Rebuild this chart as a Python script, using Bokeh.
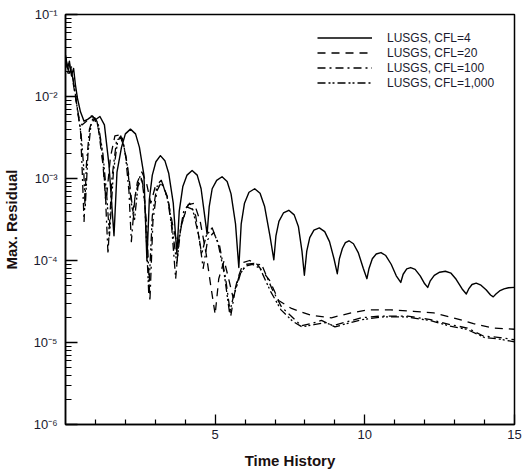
from bokeh.plotting import figure
from bokeh.models import Range1d, FixedTicker, Legend, LegendItem
from bokeh.embed import file_html
from bokeh.resources import INLINE

# ---- data ----
cfl4_x = [0.0, 0.07, 0.13, 0.2, 0.27, 0.33, 0.4, 0.5, 0.62, 0.75, 0.9, 1.0, 1.15, 1.3, 1.45, 1.62,
          1.72, 1.87, 2.0, 2.17, 2.34, 2.47, 2.62, 2.72,
          2.8, 2.9, 3.02, 3.17, 3.32, 3.45, 3.6, 3.72,
          3.8, 3.92, 4.06, 4.23, 4.4, 4.53, 4.65, 4.73,
          4.8, 4.9, 5.05, 5.23, 5.4, 5.53, 5.68, 5.79,
          5.87, 5.98, 6.13, 6.32, 6.5, 6.65, 6.83, 6.96,
          7.03, 7.13, 7.28, 7.46, 7.64, 7.78, 7.9, 7.98,
          8.06, 8.16, 8.3, 8.48, 8.66, 8.82, 8.97, 9.08,
          9.15, 9.25, 9.35, 9.47, 9.62, 9.78, 9.95, 10.07,
          10.14, 10.25, 10.38, 10.54, 10.7, 10.88, 11.05, 11.2,
          11.28, 11.4, 11.53, 11.68, 11.85, 12.0, 12.1,
          12.18, 12.32, 12.5, 12.69, 12.88, 13.05, 13.25, 13.39,
          13.47, 13.58, 13.72, 13.88, 14.05, 14.2, 14.29,
          14.38, 14.5, 14.65, 14.8, 15.0]
cfl4_y = [3.2e-2, 2.2e-2, 2.7e-2, 1.8e-2, 2.2e-2, 1.4e-2, 9.5e-3, 6.5e-3, 5.0e-3, 5.3e-3, 5.8e-3, 5.2e-3, 5.7e-3, 4.5e-3, 1.5e-3, 2.0e-4,
          1.2e-3, 2.4e-3, 3.5e-3, 4.0e-3, 3.5e-3, 2.4e-3, 1.1e-3, 1.0e-4,
          5.5e-4, 1.1e-3, 1.6e-3, 1.9e-3, 1.65e-3, 1.15e-3, 5e-4, 1.2e-4,
          4e-4, 8e-4, 1.1e-3, 1.25e-3, 1.1e-3, 7.5e-4, 3.5e-4, 2.1e-4,
          4.5e-4, 7.5e-4, 9.5e-4, 1.05e-3, 9.2e-4, 6.5e-4, 2.8e-4, 8.2e-5,
          2.8e-4, 5e-4, 6.8e-4, 7.5e-4, 6.6e-4, 4.6e-4, 2.0e-4, 1.02e-4,
          2.0e-4, 3.0e-4, 3.8e-4, 4.1e-4, 3.6e-4, 2.6e-4, 1.3e-4, 6.6e-5,
          1.3e-4, 1.9e-4, 2.35e-4, 2.5e-4, 2.25e-4, 1.7e-4, 1.05e-4, 6.9e-5,
          1.05e-4, 1.4e-4, 1.65e-4, 1.74e-4, 1.6e-4, 1.25e-4, 8e-5, 6.0e-5,
          8e-5, 1.05e-4, 1.2e-4, 1.25e-4, 1.15e-4, 9e-5, 6.5e-5, 5.4e-5,
          6.8e-5, 7.9e-5, 8.2e-5, 7.8e-5, 6.5e-5, 5.2e-5, 4.7e-5,
          5.6e-5, 6.6e-5, 7.2e-5, 7.4e-5, 7.0e-5, 5.9e-5, 4.5e-5, 3.9e-5,
          4.5e-5, 5.1e-5, 5.3e-5, 5.0e-5, 4.4e-5, 3.8e-5, 3.6e-5,
          3.9e-5, 4.25e-5, 4.5e-5, 4.65e-5, 4.7e-5]

cfl20_x = [0.0, 0.08, 0.15, 0.25, 0.35, 0.45, 0.55, 0.7, 0.85, 0.95, 1.1, 1.25, 1.35, 1.5, 1.65, 1.8, 1.95,
           2.1, 2.25, 2.4, 2.55, 2.7, 2.85, 3.0, 3.2, 3.4, 3.6, 3.75, 3.9, 4.1, 4.3, 4.5, 4.7, 4.85,
           5.0, 5.12, 5.3, 5.45, 5.6, 5.75, 5.95, 6.15, 6.4, 6.82, 7.12, 7.55, 8.2, 8.88, 9.54, 10.1,
           10.87, 11.63, 12.3, 12.96, 13.63, 14.29, 15.0]
cfl20_y = [3.0e-2, 2.0e-2, 2.5e-2, 1.5e-2, 9e-3, 5.5e-3, 4.5e-3, 5.0e-3, 5.8e-3, 5.5e-3, 4.0e-3, 1.5e-3, 5e-4, 1.8e-3, 3.3e-3, 3.4e-3, 2.5e-3,
           1.2e-3, 4.0e-4, 9e-4, 1.2e-3, 9e-4, 5e-4, 8e-4, 9.5e-4, 6e-4, 2.5e-4, 1.5e-4, 3e-4, 4.8e-4, 5e-4, 3e-4, 1.2e-4, 5e-5,
           2.2e-5, 6e-5, 1.0e-4, 6e-5, 3.5e-5, 6e-5, 9.5e-5, 1.0e-4, 9e-5, 5.7e-5, 3.25e-5, 2.6e-5, 2.15e-5, 2.0e-5, 2.3e-5, 2.5e-5,
           2.5e-5, 2.4e-5, 2.3e-5, 2.0e-5, 1.7e-5, 1.5e-5, 1.45e-5]

cfl100_x = [0.0, 0.1, 0.2, 0.3, 0.4, 0.5, 0.56, 0.62, 0.7, 0.8, 0.92, 1.05, 1.2, 1.32, 1.42, 1.55, 1.7, 1.85,
            2.0, 2.12, 2.2, 2.32, 2.5, 2.6, 2.72, 2.82, 2.92, 3.05, 3.2, 3.4, 3.55, 3.68, 3.8, 3.95, 4.15,
            4.35, 4.5, 4.6, 4.75, 4.95, 5.15, 5.35, 5.52, 5.65, 5.85, 6.05, 6.3, 6.56, 6.9, 7.22, 7.88,
            8.21, 8.55, 8.94, 9.31, 9.87, 10.54, 11.43, 12.2, 12.86, 13.43, 13.96, 14.52, 15.0]
cfl100_y = [2.8e-2, 1.8e-2, 2.3e-2, 1.2e-2, 7e-3, 4e-3, 1.2e-3, 3.0e-4, 1.5e-3, 4e-3, 5.5e-3, 5.0e-3, 2.5e-3, 8e-4, 1.2e-4, 1.0e-3, 2.8e-3, 3.3e-3,
            2.0e-3, 7e-4, 1.7e-4, 6e-4, 1.1e-3, 8e-4, 2.5e-4, 3.2e-5, 3e-4, 7e-4, 9e-4, 6e-4, 2.5e-4, 6e-5, 2e-4, 4e-4, 5.0e-4,
            3.5e-4, 1.5e-4, 8e-5, 1.8e-4, 2.2e-4, 1.5e-4, 6e-5, 2.1e-5, 4e-5, 7e-5, 9e-5, 9.2e-5, 8.8e-5, 4.5e-5, 2.7e-5, 1.6e-5,
            1.7e-5, 1.86e-5, 1.6e-5, 1.75e-5, 2.0e-5, 2.1e-5, 2.1e-5, 1.9e-5, 1.65e-5, 1.5e-5, 1.2e-5, 1.15e-5, 1.08e-5]

cfl1000_x = [0.0, 0.1, 0.2, 0.3, 0.42, 0.52, 0.6, 0.66, 0.75, 0.85, 0.98, 1.1, 1.25, 1.38, 1.47, 1.6, 1.75, 1.9,
             2.05, 2.2, 2.3, 2.42, 2.55, 2.65, 2.78, 2.9, 3.05, 3.25, 3.45, 3.6, 3.72, 3.85, 4.05, 4.25,
             4.45, 4.55, 4.7, 4.9, 5.1, 5.3, 5.48, 5.6, 5.8, 6.0, 6.25, 6.5, 6.85, 7.2, 7.6, 7.9, 8.3,
             8.7, 9.0, 9.4, 9.9, 10.6, 11.4, 12.2, 12.8, 13.4, 14.0, 14.5, 15.0]
cfl1000_y = [3.0e-2, 2.0e-2, 2.0e-2, 1.3e-2, 6e-3, 3.5e-3, 1.5e-3, 4.5e-4, 2e-3, 4.5e-3, 5.5e-3, 4.5e-3, 2e-3, 6e-4, 2.0e-4, 1.2e-3, 3.0e-3, 3.1e-3,
             1.6e-3, 5e-4, 3e-4, 8e-4, 1.0e-3, 5e-4, 4e-5, 3.5e-4, 8e-4, 8.5e-4, 5e-4, 2e-4, 9e-5, 2.5e-4, 4.5e-4, 4.2e-4,
             2e-4, 1.2e-4, 2e-4, 2.5e-4, 1.6e-4, 7e-5, 2.3e-5, 3.5e-5, 6.5e-5, 8.5e-5, 9e-5, 8e-5, 4.2e-5, 2.5e-5, 1.8e-5, 1.55e-5, 1.65e-5,
             1.75e-5, 1.55e-5, 1.7e-5, 1.9e-5, 2.05e-5, 2.05e-5, 1.85e-5, 1.6e-5, 1.45e-5, 1.15e-5, 1.1e-5, 1.02e-5]

series_labels = ["LUSGS, CFL=4", "LUSGS, CFL=20", "LUSGS, CFL=100", "LUSGS, CFL=1,000"]
x_ticks = [5, 10, 15]
x_minor = [1, 2, 3, 4, 6, 7, 8, 9, 11, 12, 13, 14]
y_ticks = [1e-6, 1e-5, 1e-4, 1e-3, 1e-2, 1e-1]
y_tick_labels = ["10⁻⁶", "10⁻⁵", "10⁻⁴", "10⁻³", "10⁻²", "10⁻¹"]

FONT = "Liberation Sans"
TXT = "#1a1a2e"

p = figure(width=522, height=474, output_backend="svg", toolbar_location=None,
           x_range=Range1d(0, 15), y_range=Range1d(1e-6, 1e-1), y_axis_type="log",
           min_border_left=63, min_border_top=14, min_border_right=8, min_border_bottom=50)
p.grid.visible = False
p.outline_line_color = "black"
p.outline_line_width = 1.5
p.background_fill_color = "white"
p.border_fill_color = "white"

styles = [("solid", 1.4), ("8 6", 1.3), ("8 4 2 4", 1.3), ("8 3 2 2 2 3", 1.3)]
data = [(cfl4_x, cfl4_y), (cfl20_x, cfl20_y), (cfl100_x, cfl100_y), (cfl1000_x, cfl1000_y)]
renderers = []
for (xs, ys), (dash, lw) in zip(data, styles):
    r = p.line(xs, ys, line_color="black", line_width=lw, line_dash=dash, line_join="round")
    renderers.append(r)

legend = Legend(items=[LegendItem(label=l, renderers=[r]) for l, r in zip(series_labels, renderers)],
                location=(252, 334), padding=0, margin=0, spacing=0,
                glyph_width=55, glyph_height=15, label_height=15, label_standoff=15,
                border_line_alpha=0, background_fill_alpha=0,
                label_text_font=FONT, label_text_font_size="12px", label_text_color=TXT)
p.add_layout(legend)

xa = p.xaxis[0]
xa.ticker = FixedTicker(ticks=x_ticks, minor_ticks=x_minor)
xa.axis_label = "Time History"
ya = p.yaxis[0]
ya.ticker = FixedTicker(ticks=y_ticks, minor_ticks=[m * 10.0 ** e for e in range(-6, -1) for m in range(2, 10)])
ya.major_label_overrides = {t: s for t, s in zip(y_ticks, y_tick_labels)}
ya.axis_label = "Max. Residual"

for ax in (xa, ya):
    ax.axis_line_width = 1.5
    ax.axis_line_color = "black"
    ax.major_tick_in = 10
    ax.major_tick_out = 0
    ax.minor_tick_in = 5
    ax.minor_tick_out = 0
    ax.major_tick_line_width = 1.3
    ax.minor_tick_line_width = 1.2
    ax.major_label_text_font = FONT
    ax.major_label_text_font_size = "13px"
    ax.major_label_text_color = TXT
    ax.axis_label_text_font = FONT
    ax.axis_label_text_font_size = "15px"
    ax.axis_label_text_font_style = "bold"
    ax.axis_label_text_color = "#1a1010"
ya.major_tick_in = 12
ya.minor_tick_in = 6
xa.major_label_standoff = 5
xa.axis_label_standoff = 10
ya.major_label_standoff = 8
ya.axis_label_standoff = 10

open("out.html", "w").write(file_html(p, INLINE))
